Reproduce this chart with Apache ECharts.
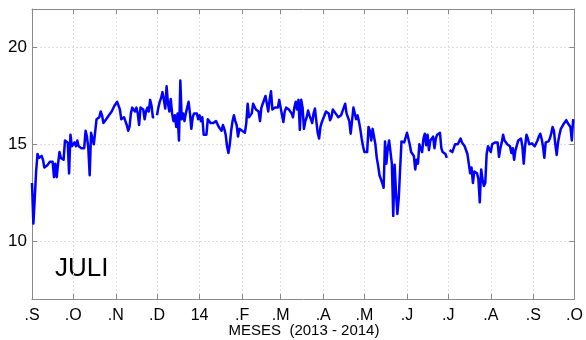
<!DOCTYPE html>
<html><head><meta charset="utf-8">
<script src="https://cdn.jsdelivr.net/npm/echarts@6/dist/echarts.min.js"></script>
<style>html,body{margin:0;padding:0;background:#fff}#c{width:586px;height:340px}</style>
</head><body><div id="c"></div>
<script>
// day offsets from 2013-09-01
const monthTicks = [0,30,61,91,122,153,181,212,242,273,303,334,365,395];
const monthLabels = ['.S','.O','.N','.D','14','.F','.M','.A','.M','.J','.J','.A','.S','.O'];
const yTicks = [10,15,20];
const stationName = 'JULI';
const axisTitle = 'MESES  (2013 - 2014)';
// daily values, 2013-09-01 .. 2014-09-30 (null = missing)
const temps = [
13.0,10.9,12.2,13.6,14.5,14.3,14.4,14.4,14.2,13.8,
13.9,13.9,14.0,14.1,14.2,14.1,13.3,14.0,13.3,14.0,
14.6,14.3,14.4,14.2,15.2,15.3,15.1,13.5,15.5,14.9,
15.0,15.1,14.9,15.2,14.9,15.0,14.8,14.8,14.8,15.7,
15.4,14.8,13.4,15.6,15.7,15.0,14.9,16.3,16.3,16.4,
16.7,16.5,16.1,16.2,16.3,16.4,16.5,16.5,16.7,16.8,
17.0,16.9,17.2,17.0,16.8,16.3,16.2,16.4,16.2,16.0,
15.7,15.9,16.6,16.9,16.8,16.7,16.9,16.6,16.0,16.9,
17.0,16.8,16.3,16.7,16.9,16.7,17.3,17.0,16.4,16.4,
null,16.5,16.9,17.2,17.4,17.7,17.3,16.85,18.0,17.1,
16.7,17.35,16.6,16.2,16.5,15.9,16.6,15.2,18.3,16.3,
16.6,16.2,16.6,16.5,17.2,16.6,15.8,16.4,16.6,16.5,
16.6,16.3,16.5,16.2,16.4,15.5,15.4,15.5,16.3,16.2,
16.1,16.0,16.1,16.0,16.2,16.1,15.9,15.8,15.7,16.0,
15.8,15.5,14.9,14.55,15.0,15.7,16.2,16.5,16.2,16.0,
15.4,15.8,15.7,15.7,15.8,15.6,16.1,17.1,16.4,16.3,
16.6,17.1,17.15,16.8,16.75,16.7,16.2,16.9,17.1,17.0,
17.5,17.1,16.7,17.3,17.75,16.8,16.9,16.9,17.0,16.9,
17.3,16.9,16.8,16.15,16.7,16.9,17.0,16.8,16.7,16.6,
16.4,16.9,17.2,16.8,17.3,15.75,17.3,16.9,15.8,16.2,
16.4,16.75,16.5,16.3,16.1,16.6,16.85,16.2,15.6,15.3,
15.9,16.15,16.2,16.5,16.7,16.8,16.6,16.25,16.4,16.8,
16.7,16.6,16.5,16.4,16.3,16.5,16.6,16.9,17.1,16.6,
16.7,16.2,15.55,16.2,16.9,16.9,16.3,16.5,16.2,15.8,
15.3,14.9,14.6,14.5,14.6,15.9,15.7,15.2,15.8,15.7,
15.0,14.3,13.9,13.4,13.2,13.0,12.75,15.15,14.0,14.8,
15.2,15.2,14.0,11.3,13.95,12.5,11.4,12.2,13.7,15.15,
15.1,15.1,15.2,15.6,15.3,15.0,14.6,14.5,14.4,13.7,
14.2,14.0,15.0,15.0,14.6,15.3,15.55,14.95,15.5,14.7,
15.2,15.3,15.4,14.8,15.3,15.5,15.6,15.6,14.8,14.6,
14.5,14.5,14.3,null,14.7,14.6,14.6,14.7,15.0,15.1,
15.0,15.1,15.3,15.1,15.0,14.9,14.8,14.5,14.0,13.5,
13.8,13.0,13.6,13.7,13.5,13.2,12.0,13.7,13.2,12.85,
13.0,14.5,14.9,14.9,14.6,15.0,15.05,15.1,15.2,15.1,
14.35,14.8,15.1,15.5,15.2,15.2,15.0,15.0,14.9,14.55,
14.8,14.2,14.7,14.95,15.2,15.3,15.3,14.9,14.0,14.9,
15.5,15.3,15.0,15.0,15.05,15.0,14.9,15.0,15.2,15.4,
15.55,15.3,14.9,14.3,15.1,15.2,15.15,15.3,15.55,15.9,
15.7,15.0,14.45,15.1,15.5,15.8,15.9,16.05,16.0,16.25,
16.1,16.2,15.9,15.2,16.3
];

const seriesData = temps.map((v, i) => [i, v == null ? '-' : v]);
const FONT = '"Liberation Sans", Arial, sans-serif';
const frameColor = '#8a8a8a';
const gridLine = { show: true, lineStyle: { color: '#dedede', type: [2, 2], width: 1 } };
const fmtX = v => { const k = monthTicks.indexOf(Math.round(v)); return k >= 0 ? monthLabels[k] : ''; };

const chart = echarts.init(document.getElementById('c'), null, { renderer: 'canvas' });
chart.setOption({
  animation: false,
  backgroundColor: '#fff',
  grid: { left: 32, right: 10, top: 9, bottom: 41, show: false },
  xAxis: [{
    type: 'value', min: 0, max: 395, position: 'bottom',
    axisLine: { show: true, onZero: false, lineStyle: { color: frameColor, width: 1 } },
    axisTick: { show: true, inside: true, length: 5, customValues: monthTicks, lineStyle: { color: frameColor } },
    axisLabel: { customValues: monthTicks, formatter: fmtX, color: '#000', fontSize: 16, fontFamily: FONT, margin: 9 },
    splitLine: gridLine
  }, {
    type: 'value', min: 0, max: 395, position: 'top',
    axisLine: { show: true, onZero: false, lineStyle: { color: frameColor, width: 1 } },
    axisTick: { show: true, inside: true, length: 5, customValues: monthTicks, lineStyle: { color: frameColor } },
    axisLabel: { show: false, customValues: monthTicks },
    splitLine: { show: false }
  }],
  yAxis: [{
    type: 'value', min: 7, max: 22, position: 'left',
    axisLine: { show: true, onZero: false, lineStyle: { color: frameColor, width: 1 } },
    axisTick: { show: true, inside: true, length: 5, customValues: yTicks, lineStyle: { color: frameColor } },
    axisLabel: { customValues: yTicks, color: '#000', fontSize: 17, fontFamily: FONT, margin: 5 },
    splitLine: gridLine
  }, {
    type: 'value', min: 7, max: 22, position: 'right',
    axisLine: { show: true, onZero: false, lineStyle: { color: frameColor, width: 1 } },
    axisTick: { show: true, inside: true, length: 5, customValues: yTicks, lineStyle: { color: frameColor } },
    axisLabel: { show: false, customValues: yTicks },
    splitLine: { show: false }
  }],
  graphic: [{
    type: 'text', left: 55, top: 256,
    style: { text: stationName, font: '26px ' + FONT, fill: '#000' }
  }, {
    type: 'text', x: 304, y: 331,
    style: { text: axisTitle, font: '15px ' + FONT, fill: '#000', align: 'center', verticalAlign: 'middle' }
  }],
  series: [{
    type: 'line', xAxisIndex: 0, yAxisIndex: 0,
    data: seriesData, showSymbol: false, symbol: 'none',
    lineStyle: { color: '#0000ff', width: 2.5, join: 'round' },
    connectNulls: false
  }]
});
</script></body></html>
